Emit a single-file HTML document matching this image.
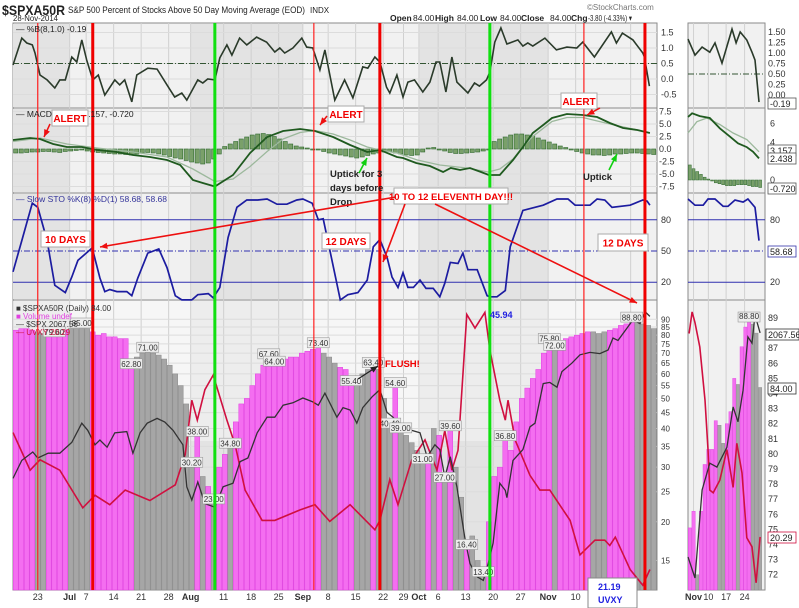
<!DOCTYPE html>
<html><head><meta charset="utf-8">
<style>
body{margin:0;background:#fff;}
svg{display:block;font-family:"Liberation Sans",sans-serif;}
</style></head>
<body>
<svg id="c" width="799" height="608" viewBox="0 0 799 608">
<rect x="0" y="0" width="799" height="608" fill="#ffffff"/>
<g id="bg"></g><g id="grid"></g><g id="marks"></g><g id="vlines"></g><g id="axes"></g><g id="notes"></g>
</svg>
<script>
// ===== data: main chart (trading-day index 0..116) =====
const barValues=[83,84,84,83,82,81,80,79.6,81,83,84,84,85,84,82,80,81,79,79,78,78,62.8,68,70,71,70,69,67,64,60,55,48,30.2,38,28,26,23,30,33,34.8,42,48,50,55,60,64,67.6,64,66,67,68,68,70,71,72,73.4,70,68,65,63,62,55.4,58,60,62,63.4,62,50,40.4,54.6,39,38,36,34,31,33,40,38,27,39.6,30,24,16.4,18,15,13.4,20,28,30,36.8,34,42,50,54,58,62,70,75.8,72,75,78,79,80,81,82,82,81,82,83,84,86,87,88.8,88,87,86,84];
const barPink=[1,1,1,1,0,0,1,1,1,1,0,0,0,0,1,1,1,1,1,1,1,1,0,0,0,0,0,0,0,0,0,0,0,1,0,1,0,1,1,0,1,1,1,1,1,1,1,1,1,1,1,1,1,1,1,1,0,0,0,1,1,1,0,0,0,1,0,0,0,1,0,0,0,0,0,1,0,1,0,1,0,0,1,0,0,0,1,1,1,1,1,1,1,1,1,1,1,1,0,1,1,1,1,1,1,0,0,0,1,1,1,1,1,0,0,0,0];
const labelIdx=[7,12,21,24,32,33,36,39,46,47,55,61,65,68,69,70,74,78,79,82,85,89,97,98,112];
const pctBDays=[0,1.6,2.5,3.5,4,4.9,6.2,7.6,8.5,9.5,10.7,11.6,12.5,13.4,14.5,15.5,16.7,18.5,19.4,20.3,21.6,22.5,24.5,26.2,28,29.4,30.7,31.6,33.6,34.5,35.4,36.7,37.6,38.9,39.8,41.2,42.5,44.3,46.1,47.6,48.5,49.4,50.9,52.5,53.4,54.5,55.8,56.7,58.5,60.3,61.8,63.6,64.5,65.8,66.7,67.9,68.5,69.8,70.9,71.8,73,74.5,75.8,76.9,77.6,78.7,79.8,80.7,82.7,83.9,84.8,86.1,86.7,87.6,88.7,89.8,91.8,92.7,93.6,94.5,96.7,98.8,100.7,102.5,103.6,105.7,108.8,109.7,110.8,112.7,114.5,114.8,115.7];
const pctBValues=[0.45,1.32,1.16,1.10,0.84,0.13,-0.03,-0.29,-0.03,-0.03,0.71,0.55,1.26,0.61,-0.03,0.13,-0.52,-0.03,-0.19,-0.03,-0.74,0.13,0.35,0.32,-0.19,-0.58,-0.45,-0.68,-0.03,-0.13,0.0,-0.03,0.68,1.10,0.77,1.32,1.10,1.35,1.19,0.87,1.0,0.84,1.0,1.32,1.03,1.0,0.29,0.94,-0.68,-0.03,-0.61,0.39,0.35,0.71,0.55,-0.26,-0.45,0.13,-0.58,-0.10,-0.03,-0.42,-0.10,0.55,0.55,-0.42,0.71,-0.10,-0.45,-0.13,-0.23,-0.03,0.23,1.19,1.65,1.13,1.26,1.06,1.16,1.06,1.32,0.94,1.03,1.0,1.19,0.71,1.52,1.16,1.48,1.26,0.84,0.71,-0.23];
const macdDays=[0,3.1,4.9,7.3,9.8,12.5,15.3,18.9,21.8,24.9,28,30.4,32.7,34.5,36.7,40,43.1,46.2,49.1,52.2,54.9,58.2,61.3,64.4,66.7,69.8,70.9,73.3,75.8,78.2,79.6,81.3,83.1,85.1,86.5,88.5,90.9,92.7,94.5,96.4,98,100.7,103.6,106.2,108.5,110.9,113.5,115.8];
const macdValues=[1.8,2.2,2.0,1.0,0.4,0.4,-0.2,-0.6,-1.2,-1.6,-2.2,-3.2,-6.2,-6.8,-7.5,-5.2,-0.8,2.4,3.6,4.0,3.6,2.4,0.8,-0.6,-0.2,-1.6,-1.8,-2.8,-3.4,-4.6,-3.8,-4.2,-3.8,-4.6,-5.2,-5.2,-2.2,0.4,3.2,4.8,6.2,7.0,6.8,6.4,5.2,4.2,3.8,3.2];
const signalDays=[0,4.9,9.8,15.3,21.8,28,32.7,36.7,40,43.1,46.2,49.1,52.2,54.9,58.2,61.3,64.4,66.7,69.8,73.5,77.6,82.5,86.4,88.5,90.9,92.7,94.5,98,100.7,103.6,108.5,113.5,115.8];
const signalValues=[1.5,2.2,1.0,0.2,-0.6,-1.6,-4,-6.5,-6,-3.5,-0.5,2,3.3,3.7,3.0,1.8,0.4,-0.2,-0.8,-2.2,-3.2,-3.8,-4.6,-4.0,-2.0,0.5,2.5,5.5,6.3,6.3,5.0,3.8,3.2];
const histValues=[-0.8,-0.8,-0.7,-0.6,-0.6,-0.5,-0.5,-0.6,-0.7,-0.5,-0.4,-0.3,-0.2,-0.4,-0.6,-0.7,-0.8,-0.9,-1,-1,-1.1,-1.2,-1,-0.8,-0.7,-0.8,-1,-1.2,-1.5,-1.8,-2,-2.3,-2.6,-2.8,-3,-2.8,-2,-1,0.5,1,1.5,2,2.4,2.8,3,3.1,2.9,2.5,2,1.5,1,0.6,0.4,0.2,0,-0.2,-0.5,-0.8,-1,-1.2,-1.4,-1.6,-1.8,-1.6,-1.3,-1,-0.8,-0.6,-0.5,-0.8,-1,-1.2,-1.3,-1.2,-0.6,0.2,0.3,0,-0.4,-0.7,-0.9,-0.9,-0.8,-0.7,-0.6,-0.4,-0.1,1.5,2,2.4,2.8,3,3,2.8,2.6,2.2,1.8,1.4,1,0.6,0.3,-0.2,-0.5,-0.8,-1,-1.2,-1.2,-1.3,-1.2,-1,-1,-0.9,-0.8,-0.8,-0.9,-1,-1.1];
const stoDays=[0,1.6,3.5,4.5,6.2,7.6,9.5,10.7,11.8,14.4,15.8,16.7,17.6,18.9,20.7,21.6,22.7,24.5,26.5,28,29.5,30.7,32.5,33.6,35.5,36.4,37.6,39.1,40.7,42.5,44.5,46.2,48,49.8,51.6,52.7,54.4,55.5,56.4,57.6,59.5,60.9,62.7,64.4,65.5,66.7,68,68.9,70,70.9,71.8,72.8,74,75.1,76.4,77.6,78.5,79.5,80.9,81.8,82.7,84.4,86.2,86.7,88,89.5,90.4,92.7,96.4,98.9,100.9,102.2,104.9,106.2,107.6,108.9,112.2,114.5,115.3,115.8];
const stoValues=[30,60,96,92,60,17,10,25,41,53,24,11,13,11,11,7,24,48,52,34,7,3,3,8,9,5,15,63,92,99,99,100,95,95,99,100,96,80,81,51,3,8,10,22,54,61,44,25,15,29,15,15,22,14,14,6,19,39,38,48,32,32,7,6,6,12,54,89,94,100,100,94,94,100,99,92,94,99,98,94,82,59];
const spxDays=[0,1.6,3.6,4.5,6.4,8.5,10.7,12.5,13.6,14.9,15.8,17.1,18.5,20.7,21.8,23.1,24.4,26.2,27.6,29.1,30.9,31.6,32.5,33.6,34.9,36.7,38.2,40,41.3,42.7,44.4,46.2,47.6,49.1,50.9,52.7,54.4,55.5,56.7,58.9,60,61.3,62.5,63.6,65.3,66.7,68,69.1,70,71.3,72.5,74,75.3,76.7,77.6,78.5,79.5,80.7,82.2,83.1,84.4,85.5,86.4,87.3,88.5,89.5,89.8,90.9,92.7,94,94.9,96.4,97.6,98.9,99.8,101.6,103.1,104.9,106.7,108.2,109.1,110,111.6,112.7,114,114.9,115.8];
const spxValues=[1935,1950,1957,1952,1956,1956,1965,1981,1975,1963,1967,1961,1973,1974,1956,1973,1981,1985,1982,1975,1963,1928,1917,1932,1914,1911,1928,1931,1949,1952,1973,1986,1986,1996,1998,2002,1999,1996,2006,1986,1994,1992,1981,1994,2003,2009,1990,1986,1981,1978,1975,1973,1953,1963,1959,1936,1953,1928,1884,1864,1853,1850,1864,1881,1931,1925,1919,1950,1959,1978,1981,2014,2015,2011,2024,2031,2038,2040,2039,2042,2052,2050,2060,2067,2064,2074,2070];
const uvxyDays=[0,3.1,4.9,8.5,12.7,14.9,17.6,20.4,24.9,29.5,31.3,32.5,33.5,34.9,36.4,38.9,40.4,42.2,45.3,47.6,52.2,54.9,57.6,61.3,65.8,66.7,68.5,70,72.5,74.9,77.1,78.5,79.8,80.9,82.5,84,85.8,86.7,88.5,89.5,90,91.3,94,95.8,97.6,101.3,103.1,105.8,107.6,108.5,109.5,112.2,114.5,115.8];
const uvxyValues=[34.4,30.8,31.8,30.8,27.2,28.4,27.5,28.9,27.9,29.4,32.3,37.5,35.6,38.5,39.9,35.6,33.2,28.9,26.0,26.0,27.0,27.5,25.9,27.5,25.1,26.0,29.9,27.5,31.8,33.7,30.8,34.6,30.8,32.7,45.7,44.4,45.9,42.3,37.5,35.6,37.5,33.7,30.3,28.9,28.9,26.0,22.7,24.1,24.1,23.6,24.4,21.3,19.8,21.3];
const barTicks=[90,85,80,75,70,65,60,55,50,45,40,35,30,25,20,15];
const pctBTicks=["1.5","1.0","0.5","0.0","-0.5"];
const macdTicks=["7.5","5.0","2.5","0.0","-2.5","-5.0","-7.5"];
const stoTicks=[80,50,20];
const xTickDays=[4.5,10.3,13.3,18.3,23.3,28.3,32.3,38.3,43.3,48.3,52.7,57.3,62.3,67.3,71,73.8,77.3,82.3,87.3,92.3,97.3,102.3,112.3];
const xTickLabels=["23","Jul","7","14","21","28","Aug","11","18","25","Sep","8","15","22","29","Oct","6","13","20","27","Nov","10","24"];
const redThinDays=[4.5,54.7,103.8];
const redThickDays=[14.5,66.7,114.9];
const greenDays=[36.7,86.7];
// ===== data: zoomed Nov chart (day index 0..19) =====
const rBarValues=[75.1,76.2,72,76.2,79.3,80.3,80.3,82.2,81.9,80.7,82,82.8,85,84.6,87.1,88.4,88.8,88.6,88,84.4];
const rBarPink=[1,1,0,1,1,1,1,1,0,0,1,1,1,0,1,1,1,0,0,0];
const rPctBDays=[0,1.9,3.8,5.9,7.3,9.2,11.9,13,14.1,15.9,17.3,18.1,19.2];
const rPctBValues=[1.33,0.95,1.14,1.02,1.24,0.76,1.57,1.24,1.50,1.31,1.02,0.83,-0.17];
const rMacdDays=[0,1.1,3.2,5.9,8.6,11.4,13.5,15.9,17.6,19.2];
const rMacdValues=[6.7,7.1,6.8,6.6,5.5,4.6,3.9,3.5,3.0,2.3];
const rSignalDays=[0,2.4,5.1,8.6,12.2,15.9,19.2];
const rSignalValues=[5.0,6.2,6.6,5.9,5.0,4.3,3.0];
const rHistValues=[1.6,1.2,0.9,0.6,0.3,0.1,-0.1,-0.3,-0.4,-0.5,-0.6,-0.6,-0.6,-0.5,-0.5,-0.5,-0.6,-0.7,-0.7,-0.8];
const rStoDays=[0,1.9,4.1,5.4,7.3,9.5,10.8,12.7,14.9,16.2,18.1,19.2];
const rStoValues=[100,94,94,100,100,93,93,99,97,100,92,60];
const rUvxyDays=[0.3,1.1,1.9,3.2,4.6,5.4,5.9,6.8,8.6,10.5,12.2,13.2,14.6,15.9,17.3,18.4,19.5];
const rUvxyValues=[42.9,45.3,44.1,41.4,35.5,30.0,25.5,25.2,26.6,30.0,25.8,30.7,27.4,20.2,19.2,15.2,20.3];
const rSpxDays=[0,1.9,3.8,5.9,7.8,10.5,12.2,13.5,14.9,16.2,17.3,18.1,19.5];
const rSpxValues=[2016.9,2012.1,2032.1,2038.2,2037.3,2041.8,2051.0,2047.6,2054.8,2066.9,2065.5,2071.9,2067.8];
const rBarTicks=[89,88,87,86,85,84,83,82,81,80,79,78,77,76,75,74,73,72];
const rPctBTicks=["1.50","1.25","1.00","0.75","0.50","0.25","0.00"];
const rMacdTicks=["6","4","2","0"];
const rXTickDays=[1.5,5.5,10.3,15.3];
const rXTickLabels=["Nov","10","17","24"];

// ===== scales =====
const X0=13,X1=657,DW=5.5;
const xd=d=>X0+d*DW;
const yPB=v=>79-31*v;
const yMACD=v=>149-5*v;
const ySTO=v=>303-1.04*v;
const yBar=v=>327-134.6*(Math.log(v)-Math.log(85));
const ySPX=v=>320+(2067-v)*1.2;
const yUV=v=>312+(45.94-v)*10.45;
const R0=688,R1=765,RW=3.7;
const xr=d=>R0+d*RW;
const ryPB=v=>95-42*v;
const ryMACD=v=>180-9.4*v;
const ryBar=v=>318+(89-v)*15.1;
const rySPX=v=>334+(2067.56-v)*4.4;
const ryUV=v=>537-(v-20.29)*9;
const P=[23,108,193,300,590];

const NS="http://www.w3.org/2000/svg";
function mk(parent,tag,attrs,text){const e=document.createElementNS(NS,tag);for(const k in attrs)e.setAttribute(k,attrs[k]);if(text!==undefined)e.textContent=text;document.getElementById(parent).appendChild(e);return e;}
function pathOf(days,vals,xf,yf){return days.map((d,i)=>(i?'L':'M')+xf(d).toFixed(1)+','+yf(vals[i]).toFixed(1)).join('');}

[[X0,X1],[R0,R1]].forEach((r,ri)=>{
  for(let p=0;p<4;p++){
    const bg=mk('bg','rect',{x:r[0],y:P[p],width:r[1]-r[0],height:P[p+1]-P[p],fill:'#f1f1f1',stroke:'#8a8a8a','stroke-width':1});
    
    
  }
});
const bands=[[0,10.3],[32.3,52.7],[73.8,97.3]];
bands.forEach(b=>{for(let p=0;p<4;p++){const e=mk('bg','rect',{x:xd(b[0]),y:P[p]+1,width:xd(b[1])-xd(b[0]),height:P[p+1]-P[p]-2,fill:'#e3e3e3'});

}});
const gtop=mk('bg','rect',{x:X0+1,y:P[3]+1,width:X1-X0-2,height:140,fill:'#ffffff',opacity:0.35});



xTickDays.forEach(d=>{const e=mk('grid','line',{x1:xd(d),x2:xd(d),y1:P[0],y2:P[4],stroke:'#d0d0d0','stroke-width':1});

});
rXTickDays.forEach(d=>{const e=mk('grid','line',{x1:xr(d),x2:xr(d),y1:P[0],y2:P[4],stroke:'#d0d0d0','stroke-width':1});

});
barTicks.forEach(t=>{const e=mk('grid','line',{x1:X0,x2:X1,y1:yBar(t),y2:yBar(t),stroke:'#dcdcdc'});

});
pctBTicks.forEach(t=>{const e=mk('grid','line',{x1:X0,x2:X1,y1:yPB(+t),y2:yPB(+t),stroke:'#dcdcdc'});

});
macdTicks.forEach(t=>{const e=mk('grid','line',{x1:X0,x2:X1,y1:yMACD(+t),y2:yMACD(+t),stroke:'#dcdcdc'});

});

[[X0,X1,yPB],[R0,R1,ryPB]].forEach((r,i)=>{const e=mk('marks','line',{x1:r[0],x2:r[1],y1:r[2](0.5),y2:r[2](0.5),stroke:'#335533','stroke-width':1,'stroke-dasharray':'6,2,1,2'});

});
let e=mk('marks','path',{d:pathOf(pctBDays,pctBValues,xd,yPB),fill:'none',stroke:'#2a3a2a','stroke-width':1.6});


e=mk('marks','path',{d:pathOf(rPctBDays,rPctBValues,xr,ryPB),fill:'none',stroke:'#2a3a2a','stroke-width':1.6});



histValues.forEach((v,i)=>{const y0=yMACD(0),y1=yMACD(v);const b=mk('marks','rect',{x:xd(i)+0.6,y:Math.min(y0,y1),width:4.2,height:Math.max(1,Math.abs(y1-y0)),fill:'#7aa06a',stroke:'#2f6a2f','stroke-width':0.6});

});
rHistValues.forEach((v,i)=>{const y0=ryMACD(0),y1=ryMACD(v);const b=mk('marks','rect',{x:xr(i)+0.4,y:Math.min(y0,y1),width:2.9,height:Math.max(1,Math.abs(y1-y0)),fill:'#7aa06a',stroke:'#2f6a2f','stroke-width':0.5});

});
e=mk('marks','path',{d:pathOf(signalDays,signalValues,xd,yMACD),fill:'none',stroke:'#9cb89c','stroke-width':1.3});


e=mk('marks','path',{d:pathOf(macdDays,macdValues,xd,yMACD),fill:'none',stroke:'#1f5a1f','stroke-width':1.8});


e=mk('marks','path',{d:pathOf(rSignalDays,rSignalValues,xr,ryMACD),fill:'none',stroke:'#9cb89c','stroke-width':1.3});


e=mk('marks','path',{d:pathOf(rMacdDays,rMacdValues,xr,ryMACD),fill:'none',stroke:'#1f5a1f','stroke-width':1.8});



[[X0,X1],[R0,R1]].forEach(r=>{
  [80,20].forEach(t=>{const l=mk('marks','line',{x1:r[0],x2:r[1],y1:ySTO(t),y2:ySTO(t),stroke:'#3030b0','stroke-width':1});
  
  });
  const m=mk('marks','line',{x1:r[0],x2:r[1],y1:ySTO(50),y2:ySTO(50),stroke:'#3030b0','stroke-width':1,'stroke-dasharray':'6,2,1,2'});
  
  
});
e=mk('marks','path',{d:pathOf(stoDays,stoValues,xd,ySTO),fill:'none',stroke:'#1c1ca0','stroke-width':1.7});


e=mk('marks','path',{d:pathOf(rStoDays,rStoValues,xr,ySTO),fill:'none',stroke:'#1c1ca0','stroke-width':1.7});



barValues.forEach((v,i)=>{const up=barPink[i]===1;const y=yBar(v);const b=mk('marks','rect',{x:xd(i)+0.3,y:y,width:4.9,height:P[4]-y,fill:up?'#f46ef0':'#a6a6a6',stroke:up?'#e040e0':'#8a8a8a','stroke-width':0.5});

});
rBarValues.forEach((v,i)=>{const up=rBarPink[i]===1;const y=ryBar(v);const b=mk('marks','rect',{x:xr(i)+0.2,y:y,width:3.3,height:P[4]-y,fill:up?'#f46ef0':'#a6a6a6',stroke:up?'#e040e0':'#8a8a8a','stroke-width':0.4});

});
e=mk('marks','path',{d:pathOf(uvxyDays,uvxyValues,xd,yUV),fill:'none',stroke:'#d01040','stroke-width':1.6});


e=mk('marks','path',{d:pathOf(spxDays,spxValues,xd,ySPX),fill:'none',stroke:'#333333','stroke-width':1.3});


e=mk('marks','path',{d:pathOf(rUvxyDays,rUvxyValues,xr,ryUV),fill:'none',stroke:'#d01040','stroke-width':1.6});


e=mk('marks','path',{d:pathOf(rSpxDays,rSpxValues,xr,rySPX),fill:'none',stroke:'#333333','stroke-width':1.3});



labelIdx.forEach(i=>{const v=barValues[i];const cx=xd(i+0.5),cy=yBar(v)-4;
  const r=mk('marks','rect',{x:cx-11,y:cy-5,width:22,height:10,fill:'#eeeeee',stroke:'#999','stroke-width':0.6});
  
  
  const t=mk('marks','text',{x:cx,y:cy+3.2,'font-size':8,'text-anchor':'middle',fill:'#333'},v.toFixed(2));
  
  });
const rl=mk('marks','rect',{x:xr(16.5)-11,y:ryBar(88.8)-9,width:22,height:10,fill:'#eeeeee',stroke:'#999','stroke-width':0.6});


const rlt=mk('marks','text',{x:xr(16.5),y:ryBar(88.8)-1.8,'font-size':8,'text-anchor':'middle',fill:'#333'},'88.80');



redThinDays.forEach(d=>{const l=mk('vlines','line',{x1:xd(d),x2:xd(d),y1:P[0],y2:P[4],stroke:'#ff2020','stroke-width':1.2});

});
redThickDays.forEach(d=>{const l=mk('vlines','line',{x1:xd(d),x2:xd(d),y1:P[0],y2:P[4],stroke:'#f00000','stroke-width':3});

});
greenDays.forEach(d=>{const l=mk('vlines','line',{x1:xd(d),x2:xd(d),y1:P[0],y2:P[4],stroke:'#10e010','stroke-width':3});

});

function tl(x,y,s,name,opts){const t=mk('axes','text',Object.assign({x:x,y:y,'font-size':9,fill:'#333'},opts||{}),s);return t;}
barTicks.forEach(t=>tl(661,yBar(t)+3,String(t),'bar-y-tick',{'font-size':8}));
pctBTicks.forEach(t=>tl(661,yPB(+t)+3,t,'pctb-y-tick'));
macdTicks.forEach(t=>tl(659,yMACD(+t)+3,t,'macd-y-tick'));
stoTicks.forEach(t=>tl(661,ySTO(t)+3,String(t),'sto-y-tick'));
rBarTicks.forEach(t=>tl(768,ryBar(t)+3,String(t),'nov-bar-y-tick'));
rPctBTicks.forEach(t=>tl(768,ryPB(+t)+3,t,'nov-pctb-y-tick'));
rMacdTicks.forEach(t=>tl(770,ryMACD(+t)+3,t,'nov-macd-y-tick'));
stoTicks.forEach(t=>tl(770,ySTO(t)+3,String(t),'nov-sto-y-tick'));
xTickDays.forEach((d,i)=>{const lab=xTickLabels[i];const bold=isNaN(+lab);tl(xd(d),600,lab,'x-tick',{'text-anchor':'middle','font-weight':bold?'bold':'normal'});});
rXTickDays.forEach((d,i)=>{const lab=rXTickLabels[i];tl(xr(d),600,lab,'nov-x-tick',{'text-anchor':'middle','font-weight':isNaN(+lab)?'bold':'normal'});});
function vbox(x,y,w,s,col,name){const r=mk('axes','rect',{x:x,y:y-5,width:w,height:11,fill:'#fff',stroke:col,'stroke-width':0.8});const t=mk('axes','text',{x:x+2,y:y+4,'font-size':9,fill:'#222'},s);}
vbox(768,103,28,'-0.19','#555','nov-pctb-value');
vbox(768,150,28,'3.157','#555','nov-macd-value');
vbox(768,158,28,'2.438','#555','nov-signal-value');
vbox(768,188,28,'-0.720','#555','nov-hist-value');
vbox(768,251,28,'58.68','#33a','nov-sto-value');
vbox(766,334,33,'2067.56','#333','nov-spx-value');
vbox(768,388,28,'84.00','#333','nov-bar-value');
vbox(768,537,28,'20.29','#d01040','nov-uvxy-value');

const N=(x,y,s,name,o)=>{const t=mk('notes','text',Object.assign({x:x,y:y,'font-size':9,fill:'#222'},o||{}),s);return t;};
N(2,15,'$SPXA50R','title-symbol',{'font-size':14,'font-weight':'bold',textLength:63,lengthAdjust:'spacingAndGlyphs'});
N(68,13,'S&P 500 Percent of Stocks Above 50 Day Moving Average (EOD)','title-text',{'font-size':9,textLength:237,lengthAdjust:'spacingAndGlyphs'});
N(310,13,'INDX','title-exchange',{'font-size':8});
N(13,21,'28-Nov-2014','chart-date',{'font-size':8,textLength:45,lengthAdjust:'spacingAndGlyphs'});
N(587,10,'©StockCharts.com','copyright',{'font-size':8,fill:'#777'});
N(390,21,'Open','ohlc-open-label',{'font-weight':'bold','font-size':8.5});
N(413,21,'84.00','ohlc-open-value',{'font-size':8.5});
N(435,21,'High','ohlc-high-label',{'font-weight':'bold','font-size':8.5});
N(457,21,'84.00','ohlc-high-value',{'font-size':8.5});
N(480,21,'Low','ohlc-low-label',{'font-weight':'bold','font-size':8.5});
N(500,21,'84.00','ohlc-low-value',{'font-size':8.5});
N(521,21,'Close','ohlc-close-label',{'font-weight':'bold','font-size':8.5});
N(550,21,'84.00','ohlc-close-value',{'font-size':8.5});
N(571,21,'Chg','ohlc-chg-label',{'font-weight':'bold','font-size':8.5});
N(588,21,'-3.80 (-4.33%) ▾','ohlc-chg-value',{'font-size':8.5,textLength:44,lengthAdjust:'spacingAndGlyphs'});
N(16,32,'— %B(8,1.0) -0.19','pctb-legend',{'font-size':8.5});
N(16,117,'— MACD(8,17,9) 3.157, -0.720','macd-legend',{'font-size':8.5});
N(16,202,'— Slow STO %K(8) %D(1) 58.68, 58.68','sto-legend',{'font-size':8.5,fill:'#33339a'});
N(16,311,'■ $SPXA50R (Daily) 84.00','bars-legend',{'font-size':8,fill:'#333'});
N(16,319,'■ Volume undef','volume-legend',{'font-size':8,fill:'#e040e0'});
N(16,327,'— $SPX 2067.56','spx-legend',{'font-size':8,fill:'#333'});
N(16,335,'— UVXY 20.29','uvxy-legend',{'font-size':8,fill:'#d01040'});

function box(x,y,w,h,s,name,fs){const r=mk('notes','rect',{x:x,y:y,width:w,height:h,fill:'#fff',stroke:'#aaa','stroke-width':1});const t=mk('notes','text',{x:x+w/2,y:y+h/2+4,'font-size':fs||10,'font-weight':'bold',fill:'#f00000','text-anchor':'middle'},s);}
box(52,110,36,16,'ALERT','alert-1');
box(328,106,36,16,'ALERT','alert-2');
box(561,93,36,16,'ALERT','alert-3');
box(41,231,49,16,'10 DAYS','ten-days-note');
box(322,233,48,16,'12 DAYS','twelve-days-note-1');
box(598,234,50,17,'12 DAYS','twelve-days-note-2');
box(394,188,114,16,'10 TO 12 ELEVENTH DAY!!!','eleventh-day-note',9.5);
N(330,177,'Uptick for 3','uptick-note-1',{'font-size':9.5,'font-weight':'bold'});
N(330,191,'days before','uptick-note-2',{'font-size':9.5,'font-weight':'bold'});
N(330,205,'Drop','uptick-note-3',{'font-size':9.5,'font-weight':'bold'});
N(583,180,'Uptick','uptick-note-4',{'font-size':9.5,'font-weight':'bold'});
N(385,367,'FLUSH!','flush-note',{'font-size':9.5,'font-weight':'bold',fill:'#f00000'});
N(490,318,'45.94','uvxy-peak-label',{'font-size':9,'font-weight':'bold',fill:'#2020e0'});
const ub=mk('notes','rect',{x:588,y:578,width:49,height:30,fill:'#fff',stroke:'#888'});


N(598,590,'21.19','uvxy-note-value',{'font-size':9,'font-weight':'bold',fill:'#2020e0'});
N(598,603,'UVXY','uvxy-note-name',{'font-size':9,'font-weight':'bold',fill:'#2020e0'});

function arrow(x1,y1,x2,y2,col,w,name){const a=mk('notes','line',{x1:x1,y1:y1,x2:x2,y2:y2,stroke:col,'stroke-width':w});const ang=Math.atan2(y2-y1,x2-x1),L=8;const p=[[x2,y2],[x2-L*Math.cos(ang-0.4),y2-L*Math.sin(ang-0.4)],[x2-L*Math.cos(ang+0.4),y2-L*Math.sin(ang+0.4)]];const h=mk('notes','polygon',{points:p.map(q=>q.join(',')).join(' '),fill:col});}
arrow(396,197,100,247,'#ee1010',1.6,'arrow-to-ten-days');
arrow(405,204,383,262,'#ee1010',1.6,'arrow-to-twelve-days');
arrow(435,204,637,303,'#ee1010',1.6,'arrow-to-eleventh-day');
arrow(50,124,44,137,'#ee1010',1.5,'alert-1-arrow');
arrow(327,116,320,125,'#ee1010',1.5,'alert-2-arrow');
arrow(600,108,587,115,'#ee1010',1.5,'alert-3-arrow');
arrow(359,173,367,158,'#10d010',1.6,'uptick-arrow-1');
arrow(609,170,617,154,'#10d010',1.6,'uptick-arrow-2');
arrow(358,379,378,366,'#222',1.3,'flush-arrow');
</script>
</body></html>
